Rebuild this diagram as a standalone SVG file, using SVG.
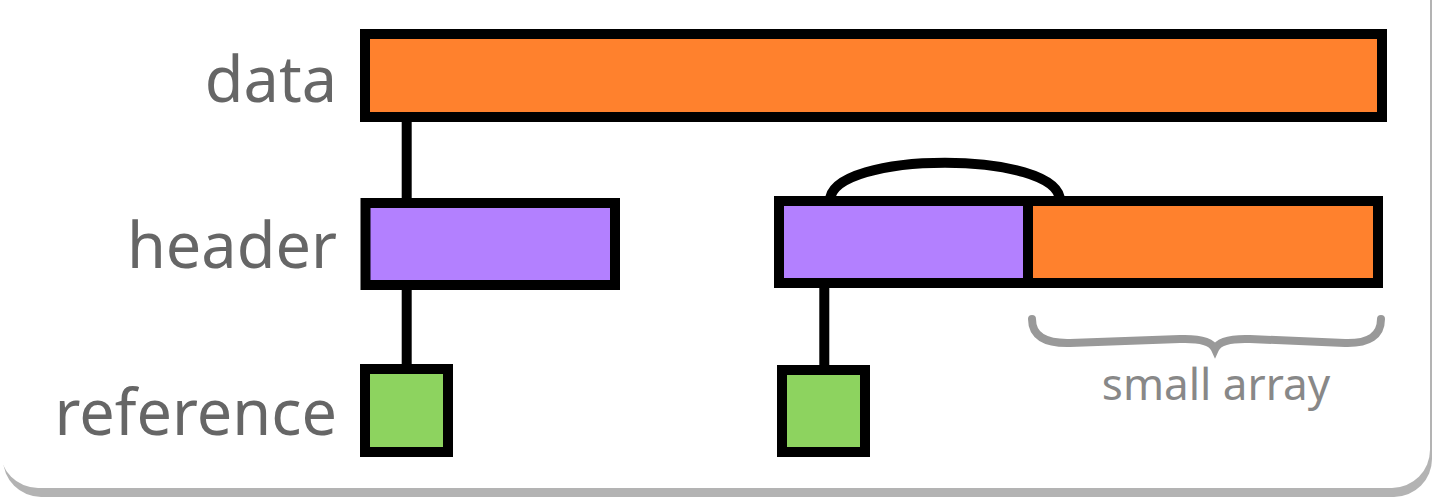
<svg xmlns="http://www.w3.org/2000/svg" width="1432" height="498" viewBox="0 0 1432 498">
<style>
.box{stroke:#000;stroke-width:10}
.or{fill:#ff812d}
.pu{fill:#b380ff}
.gr{fill:#8dd35f}
.lbl{font-family:"Noto Sans","Open Sans",sans-serif;font-size:63px;fill:#666;text-anchor:end}
.conn{stroke:#000;stroke-width:10;fill:none}
.brace{stroke:#999;stroke-width:8;fill:none;stroke-linecap:round}
.note{font-family:"Noto Sans","Open Sans",sans-serif;font-size:44px;fill:#888;text-anchor:middle}
</style>
<rect width="1432" height="498" fill="#fff"/>
<rect x="3" y="-60" width="1429" height="557" rx="38" fill="#b3b3b3"/>
<rect x="0" y="-60" width="1430" height="548" rx="38" fill="#fff"/>
<g id="connectors">
<line class="conn" x1="406.7" y1="117" x2="406.7" y2="203"/>
<line class="conn" x1="406.7" y1="285" x2="406.7" y2="370"/>
<line class="conn" x1="824.3" y1="283" x2="824.3" y2="370"/>
<path class="conn" d="M830,201 C830,150 1060,150 1060,201"/>
</g>
<g id="data">
<text class="lbl" x="337" y="102">data</text>
<rect class="box or" x="365" y="34" width="1017" height="83"/>
</g>
<g id="header">
<text class="lbl" x="337" y="268">header</text>
<rect class="box pu" x="365.5" y="203" width="249.5" height="82"/>
</g>
<g id="reference">
<text class="lbl" x="337" y="435">reference</text>
<rect class="box gr" x="365" y="369" width="83" height="83"/>
</g>
<g id="header2">
<rect class="box pu" x="779" y="201" width="249" height="82"/>
</g>
<g id="small-array">
<rect class="box or" x="1028" y="201" width="350" height="82"/>
</g>
<g id="reference2">
<rect class="box gr" x="782" y="370" width="83" height="82"/>
</g>
<g id="brace">
<path class="brace" d="M1032,319 Q1032,344 1070,343 L1180,339 Q1210,338 1215,349 Q1220,338 1250,339 L1345,343 Q1381,344 1381,319"/>
<text class="note" x="1216" y="400">small array</text>
</g>
</svg>
